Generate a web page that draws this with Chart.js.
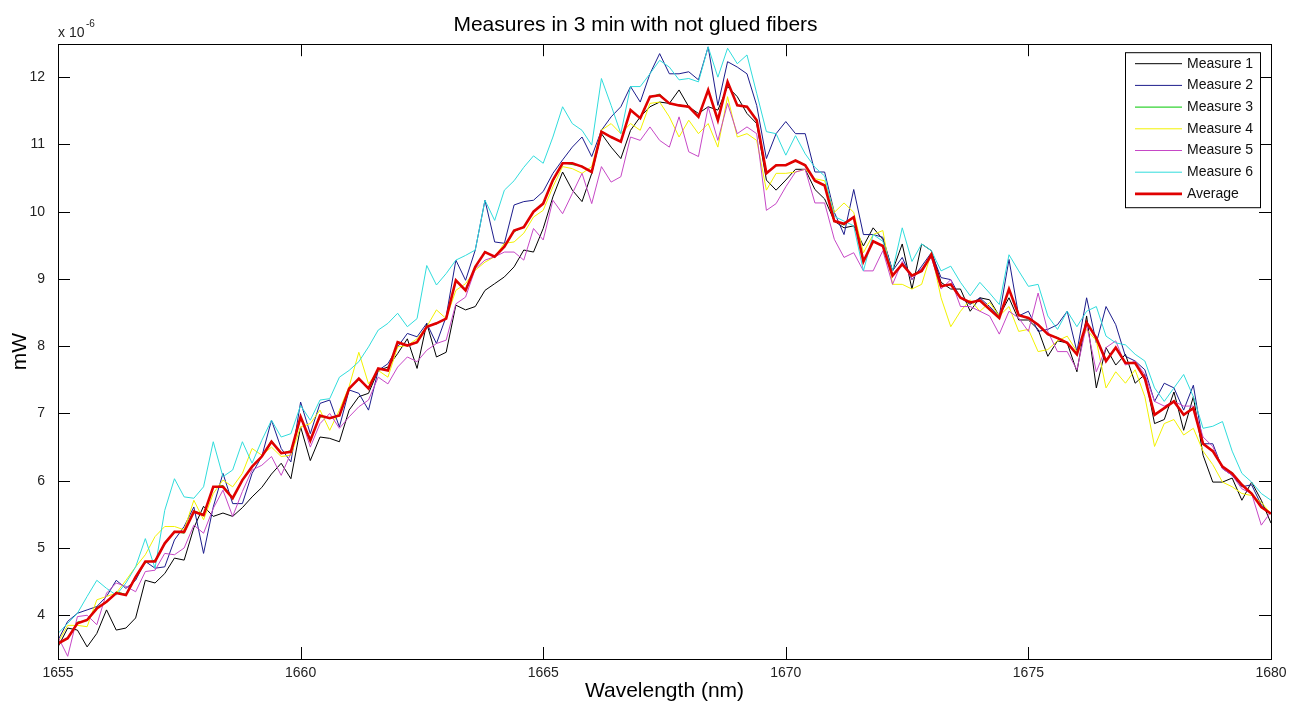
<!DOCTYPE html>
<html>
<head>
<meta charset="utf-8">
<title>Measures in 3 min with not glued fibers</title>
<script src="https://cdn.jsdelivr.net/npm/chart.js@4"></script>
<style>
  html, body { margin: 0; padding: 0; background: #fff; }
  #wrap { width: 1298px; height: 706px; }
</style>
</head>
<body>
<div id="wrap"><canvas id="spectrum" width="1298" height="706"></canvas></div>
<script>
// wavelength grid (nm), 0.2 nm step
const wavelength = [
  1655, 1655.2, 1655.4, 1655.6, 1655.8, 1656, 1656.2, 1656.4, 1656.6, 1656.8,
  1657, 1657.2, 1657.4, 1657.6, 1657.8, 1658, 1658.2, 1658.4, 1658.6, 1658.8,
  1659, 1659.2, 1659.4, 1659.6, 1659.8, 1660, 1660.2, 1660.4, 1660.6, 1660.8,
  1661, 1661.2, 1661.4, 1661.6, 1661.8, 1662, 1662.2, 1662.4, 1662.6, 1662.8,
  1663, 1663.2, 1663.4, 1663.6, 1663.8, 1664, 1664.2, 1664.4, 1664.6, 1664.8,
  1665, 1665.2, 1665.4, 1665.6, 1665.8, 1666, 1666.2, 1666.4, 1666.6, 1666.8,
  1667, 1667.2, 1667.4, 1667.6, 1667.8, 1668, 1668.2, 1668.4, 1668.6, 1668.8,
  1669, 1669.2, 1669.4, 1669.6, 1669.8, 1670, 1670.2, 1670.4, 1670.6, 1670.8,
  1671, 1671.2, 1671.4, 1671.6, 1671.8, 1672, 1672.2, 1672.4, 1672.6, 1672.8,
  1673, 1673.2, 1673.4, 1673.6, 1673.8, 1674, 1674.2, 1674.4, 1674.6, 1674.8,
  1675, 1675.2, 1675.4, 1675.6, 1675.8, 1676, 1676.2, 1676.4, 1676.6, 1676.8,
  1677, 1677.2, 1677.4, 1677.6, 1677.8, 1678, 1678.2, 1678.4, 1678.6, 1678.8,
  1679, 1679.2, 1679.4, 1679.6, 1679.8, 1680
];

// power readings, in units of 1e-6 mW
const measure1 = [
  3.53, 3.81, 3.78, 3.53, 3.73, 4.08, 3.78, 3.81, 3.96, 4.52, 4.48, 4.62, 4.85, 4.82, 5.30, 5.62, 5.47, 5.52, 5.47, 5.60, 5.76, 5.90, 6.10, 6.26, 6.03, 6.80,
  6.30, 6.65, 6.63, 6.58, 7.05, 7.25, 7.30, 7.64, 7.69, 7.89, 8.11, 7.67, 8.34, 7.84, 7.91, 8.61, 8.54, 8.59, 8.83, 8.93, 9.03, 9.18, 9.43, 9.40, 9.75,
  10.22, 10.59, 10.32, 10.15, 10.57, 11.16, 10.96, 10.79, 11.21, 11.41, 11.56, 11.63, 11.61, 11.81, 11.56, 11.46, 11.56, 11.51, 11.86, 11.71, 11.46, 11.31, 10.47, 10.32, 10.47,
  10.63, 10.63, 10.33, 10.19, 9.86, 9.76, 9.79, 9.49, 9.76, 9.59, 9.12, 9.52, 8.85, 9.52, 9.42, 8.95, 8.85, 8.85, 8.52, 8.72, 8.69, 8.45, 8.72, 8.39, 8.39,
  8.25, 7.85, 8.08, 8.05, 7.62, 8.45, 7.38, 7.98, 7.72, 7.88, 7.45, 7.58, 6.85, 6.91, 7.32, 6.75, 7.25, 6.38, 5.98, 5.98, 6.04, 5.71, 5.98, 5.71, 5.37
];
const measure2 = [
  3.63, 3.91, 4.03, 4.08, 4.13, 4.28, 4.52, 4.40, 4.52, 4.80, 4.70, 4.72, 5.12, 5.32, 5.61, 4.92, 5.61, 6.11, 5.66, 5.66, 6.11, 6.36, 6.90, 6.48, 6.28, 7.17,
  6.70, 7.15, 7.20, 6.80, 7.35, 7.30, 7.05, 7.64, 7.74, 7.99, 8.19, 8.14, 8.34, 8.04, 8.44, 9.28, 8.98, 9.43, 10.17, 9.55, 9.53, 10.10, 10.15, 10.17, 10.30,
  10.57, 10.77, 10.96, 11.11, 10.82, 11.21, 11.41, 11.56, 11.86, 11.63, 12.05, 12.35, 12.05, 12.05, 12.08, 11.96, 12.45, 11.58, 12.23, 12.15, 12.05, 11.58, 10.79, 11.16, 11.34,
  11.16, 11.16, 10.59, 10.59, 9.99, 9.66, 10.33, 9.66, 9.66, 9.62, 9.12, 9.32, 8.99, 9.19, 9.39, 9.02, 8.99, 8.72, 8.62, 8.72, 8.59, 8.45, 9.29, 8.45, 8.52,
  8.22, 8.25, 8.32, 8.52, 7.92, 8.72, 8.05, 8.59, 8.32, 7.85, 7.78, 7.65, 7.18, 7.45, 7.38, 7.05, 7.42, 6.55, 6.55, 6.18, 6.08, 5.91, 5.94, 5.64, 5.51
];
const measure3 = [
  3.60, 3.65, 3.90, 3.92, 4.12, 4.19, 4.35, 4.31, 4.58, 4.78, 4.82, 5.05, 5.25, 5.22, 5.55, 5.50, 5.90, 5.93, 5.75, 6.00, 6.22, 6.35, 6.60, 6.40, 6.45, 6.93,
  6.62, 6.95, 6.94, 6.96, 7.38, 7.50, 7.39, 7.66, 7.65, 8.05, 8.02, 8.05, 8.30, 8.33, 8.42, 8.96, 8.85, 9.17, 9.41, 9.32, 9.50, 9.70, 9.78, 9.99, 10.13,
  10.45, 10.73, 10.70, 10.68, 10.58, 11.20, 11.10, 11.05, 11.50, 11.40, 11.70, 11.75, 11.60, 11.59, 11.55, 11.42, 11.80, 11.37, 11.92, 11.59, 11.55, 11.37, 10.58, 10.68, 10.70,
  10.75, 10.70, 10.45, 10.40, 9.87, 9.80, 9.93, 9.27, 9.55, 9.50, 9.06, 9.21, 9.06, 9.11, 9.35, 8.90, 8.91, 8.73, 8.64, 8.69, 8.54, 8.43, 8.84, 8.47, 8.41,
  8.33, 8.17, 8.13, 8.04, 7.89, 8.34, 8.13, 7.79, 7.97, 7.76, 7.74, 7.53, 6.99, 7.07, 7.19, 6.97, 7.09, 6.54, 6.45, 6.20, 6.12, 5.93, 5.82, 5.60, 5.52
];
const measure4 = [
  3.60, 3.85, 3.85, 3.83, 4.23, 4.28, 4.33, 4.52, 4.72, 4.90, 5.17, 5.32, 5.32, 5.27, 5.71, 5.42, 5.81, 6.01, 5.91, 6.11, 6.48, 6.38, 6.50, 6.36, 6.38, 6.80,
  6.85, 7.05, 6.75, 7.05, 7.40, 7.91, 7.44, 7.64, 7.54, 7.99, 8.01, 8.11, 8.29, 8.54, 8.41, 8.83, 8.93, 9.13, 9.25, 9.33, 9.53, 9.55, 9.68, 9.92, 10.02,
  10.37, 10.67, 10.64, 10.57, 10.67, 11.21, 11.31, 11.16, 11.31, 11.21, 11.61, 11.63, 11.41, 11.11, 11.36, 11.16, 11.31, 10.96, 11.71, 11.11, 11.16, 11.06, 10.32, 10.57, 10.57,
  10.59, 10.63, 10.49, 10.46, 9.99, 10.13, 9.99, 9.39, 9.66, 9.72, 8.92, 8.92, 8.85, 8.92, 9.39, 8.72, 8.29, 8.52, 8.69, 8.52, 8.65, 8.45, 8.59, 8.22, 8.25,
  7.92, 7.95, 8.08, 8.15, 7.92, 8.25, 8.08, 7.38, 7.62, 7.45, 7.65, 7.25, 6.51, 6.85, 6.91, 6.68, 6.78, 6.44, 6.24, 5.98, 5.91, 5.81, 5.78, 5.68, 5.51
];
const measure5 = [
  3.68, 3.39, 3.98, 4.00, 3.86, 4.33, 4.48, 4.43, 4.35, 4.65, 4.67, 4.92, 4.90, 5.00, 5.34, 5.22, 5.59, 5.86, 5.47, 5.84, 6.16, 6.23, 6.36, 6.08, 6.41, 6.95,
  6.50, 6.85, 7.00, 6.78, 6.95, 7.10, 7.20, 7.54, 7.44, 7.69, 7.84, 7.77, 7.94, 8.04, 8.09, 8.63, 8.73, 9.15, 9.28, 9.33, 9.40, 9.40, 9.28, 9.75, 9.58,
  10.17, 9.97, 10.27, 10.57, 10.12, 10.67, 10.44, 10.52, 11.11, 11.06, 11.26, 11.06, 10.96, 11.41, 10.89, 10.82, 11.56, 11.06, 11.61, 11.16, 11.26, 11.16, 10.02, 10.12, 10.37,
  10.59, 10.63, 10.13, 10.13, 9.59, 9.32, 9.39, 9.12, 9.12, 9.42, 8.92, 9.26, 8.99, 9.16, 9.32, 8.85, 8.99, 8.59, 8.59, 8.52, 8.45, 8.18, 8.52, 8.42, 8.22,
  8.79, 8.22, 7.92, 7.92, 7.65, 8.32, 7.62, 7.98, 8.08, 7.72, 7.78, 7.58, 7.18, 7.11, 7.18, 7.11, 7.11, 6.65, 6.51, 6.18, 6.08, 5.88, 5.81, 5.34, 5.54
];
const measure6 = [
  3.73, 3.88, 4.03, 4.28, 4.52, 4.40, 4.30, 4.48, 4.72, 5.14, 4.70, 5.56, 6.03, 5.76, 5.74, 5.91, 6.58, 6.06, 6.16, 6.58, 6.26, 6.60, 6.90, 6.65, 6.70, 7.12,
  6.90, 7.20, 7.22, 7.54, 7.64, 7.77, 7.99, 8.24, 8.34, 8.49, 8.29, 8.41, 9.20, 8.91, 9.08, 9.28, 9.35, 9.43, 10.17, 9.87, 10.32, 10.46, 10.66, 10.83, 10.72,
  11.11, 11.56, 11.31, 11.21, 10.99, 11.98, 11.58, 11.16, 11.86, 11.86, 12.05, 12.25, 12.15, 11.96, 11.98, 11.93, 12.45, 12.00, 12.43, 12.20, 12.33, 11.76, 11.19, 11.16, 10.84,
  11.13, 10.86, 10.66, 10.53, 9.93, 9.86, 9.79, 9.12, 9.66, 9.56, 9.12, 9.76, 9.26, 9.52, 9.42, 9.12, 9.19, 8.95, 8.75, 8.95, 8.79, 8.62, 9.36, 9.12, 8.89,
  8.92, 8.45, 8.25, 8.52, 8.29, 8.52, 8.59, 8.15, 8.05, 8.02, 7.88, 7.78, 7.38, 7.18, 7.38, 7.58, 7.25, 6.78, 6.81, 6.88, 6.44, 6.11, 5.98, 5.81, 5.71
];
const average = [
  3.58, 3.66, 3.88, 3.93, 4.10, 4.20, 4.33, 4.30, 4.57, 4.80, 4.80, 5.07, 5.24, 5.24, 5.54, 5.49, 5.91, 5.91, 5.74, 6.01, 6.21, 6.36, 6.58, 6.41, 6.43, 6.95,
  6.60, 6.97, 6.93, 6.97, 7.37, 7.52, 7.37, 7.67, 7.64, 8.06, 8.01, 8.06, 8.29, 8.34, 8.41, 8.98, 8.83, 9.18, 9.40, 9.33, 9.48, 9.72, 9.77, 10.00, 10.12,
  10.47, 10.72, 10.72, 10.67, 10.59, 11.19, 11.11, 11.04, 11.51, 11.39, 11.71, 11.73, 11.61, 11.58, 11.56, 11.41, 11.81, 11.36, 11.93, 11.58, 11.56, 11.36, 10.57, 10.69, 10.69,
  10.76, 10.69, 10.46, 10.39, 9.86, 9.82, 9.92, 9.26, 9.56, 9.49, 9.05, 9.22, 9.05, 9.12, 9.36, 8.89, 8.92, 8.72, 8.65, 8.68, 8.55, 8.42, 8.85, 8.46, 8.42,
  8.32, 8.18, 8.12, 8.05, 7.88, 8.35, 8.12, 7.78, 7.98, 7.75, 7.75, 7.52, 6.98, 7.08, 7.18, 6.98, 7.08, 6.55, 6.44, 6.21, 6.11, 5.94, 5.81, 5.61, 5.51
];

const xTicks = [1655, 1660, 1665, 1670, 1675, 1680];
const yTicks = [4, 5, 6, 7, 8, 9, 10, 11, 12];

const FONT = '"Liberation Sans", Arial, sans-serif';

function series(label, values, color, width, order) {
    return {
        label: label,
        data: values.map((v, i) => ({ x: wavelength[i], y: v })),
        borderColor: color,
        borderWidth: width,
        pointRadius: 0,
        tension: 0,
        fill: false,
        order: order
    };
}

// box, inward ticks on all four sides, exponent note and legend
const axesBox = {
    id: 'axesBox',
    afterDraw(chart) {
        const { ctx, chartArea: a, scales: { x, y } } = chart;
        const tick = 12;
        ctx.save();
        ctx.strokeStyle = '#000';
        ctx.lineWidth = 1;
        ctx.strokeRect(Math.round(a.left) + 0.5, Math.round(a.top) + 0.5,
            Math.round(a.right - a.left), Math.round(a.bottom - a.top));
        ctx.beginPath();
        xTicks.forEach(v => {
            const px = Math.round(x.getPixelForValue(v)) + 0.5;
            ctx.moveTo(px, a.bottom); ctx.lineTo(px, a.bottom - tick);
            ctx.moveTo(px, a.top); ctx.lineTo(px, a.top + tick);
        });
        yTicks.forEach(v => {
            const py = Math.round(y.getPixelForValue(v)) + 0.5;
            ctx.moveTo(a.left, py); ctx.lineTo(a.left + tick, py);
            ctx.moveTo(a.right, py); ctx.lineTo(a.right - tick, py);
        });
        ctx.stroke();

        // x 10^-6 above the y axis
        ctx.fillStyle = '#222';
        ctx.textBaseline = 'middle';
        ctx.textAlign = 'left';
        ctx.font = '14px ' + FONT;
        ctx.fillText('x 10', a.left, a.top - 11);
        ctx.font = '10px ' + FONT;
        ctx.fillText('-6', a.left + 28, a.top - 20);

        // legend
        const lx = a.right - 146, ly = a.top + 8, lw = 135, lh = 155;
        ctx.fillStyle = '#fff';
        ctx.fillRect(lx, ly, lw, lh);
        ctx.strokeRect(lx + 0.5, ly + 0.5, lw, lh);
        ctx.font = '14px ' + FONT;
        chart.data.datasets.forEach((ds, i) => {
            const ry = ly + 11.5 + i * 21.7;
            ctx.strokeStyle = ds.borderColor;
            ctx.lineWidth = ds.borderWidth;
            ctx.beginPath();
            ctx.moveTo(lx + 10, ry);
            ctx.lineTo(lx + 57, ry);
            ctx.stroke();
            ctx.fillStyle = '#111';
            ctx.fillText(ds.label, lx + 62, ry);
        });
        ctx.restore();
    }
};

const spectrumChart = new Chart(document.getElementById('spectrum').getContext('2d'), {
    type: 'line',
    data: {
        datasets: [
            series('Measure 1', measure1, '#000000', 1, 6),
            series('Measure 2', measure2, '#1c1c8c', 1, 5),
            series('Measure 3', measure3, '#00c800', 1, 4),
            series('Measure 4', measure4, '#f2f200', 1, 3),
            series('Measure 5', measure5, '#c648c6', 1, 2),
            series('Measure 6', measure6, '#30dcdc', 1, 1),
            series('Average', average, '#e00000', 2.6, 0)
        ]
    },
    options: {
        responsive: false,
        animation: false,
        devicePixelRatio: 1,
        layout: { padding: { left: 0, right: 27, top: 0, bottom: 0 } },
        plugins: {
            legend: { display: false },
            tooltip: { enabled: false },
            title: {
                display: true,
                text: 'Measures in 3 min with not glued fibers',
                color: '#000',
                font: { family: FONT, size: 21, weight: 'normal' },
                padding: { top: 13, bottom: 6 }
            }
        },
        scales: {
            x: {
                type: 'linear',
                min: 1655,
                max: 1680,
                afterBuildTicks: s => { s.ticks = xTicks.map(v => ({ value: v })); },
                afterFit: s => { s.height = 47; },
                grid: { display: false },
                border: { display: false },
                ticks: {
                    color: '#222',
                    padding: -2,
                    maxRotation: 0,
                    font: { family: FONT, size: 14 },
                    callback: v => String(v)
                },
                title: {
                    display: true,
                    text: 'Wavelength (nm)',
                    color: '#000',
                    font: { family: FONT, size: 21 },
                    padding: { top: 0, bottom: 2 }
                }
            },
            y: {
                type: 'linear',
                min: 3.35,
                max: 12.49,
                afterBuildTicks: s => { s.ticks = yTicks.map(v => ({ value: v })); },
                afterFit: s => { s.width = 58; },
                grid: { display: false },
                border: { display: false },
                ticks: { color: '#222', padding: 5, font: { family: FONT, size: 14 } },
                title: {
                    display: true,
                    text: 'mW',
                    color: '#000',
                    font: { family: FONT, size: 21 },
                    padding: { top: 8, bottom: 0 }
                }
            }
        }
    },
    plugins: [axesBox]
});
</script>
</body>
</html>
